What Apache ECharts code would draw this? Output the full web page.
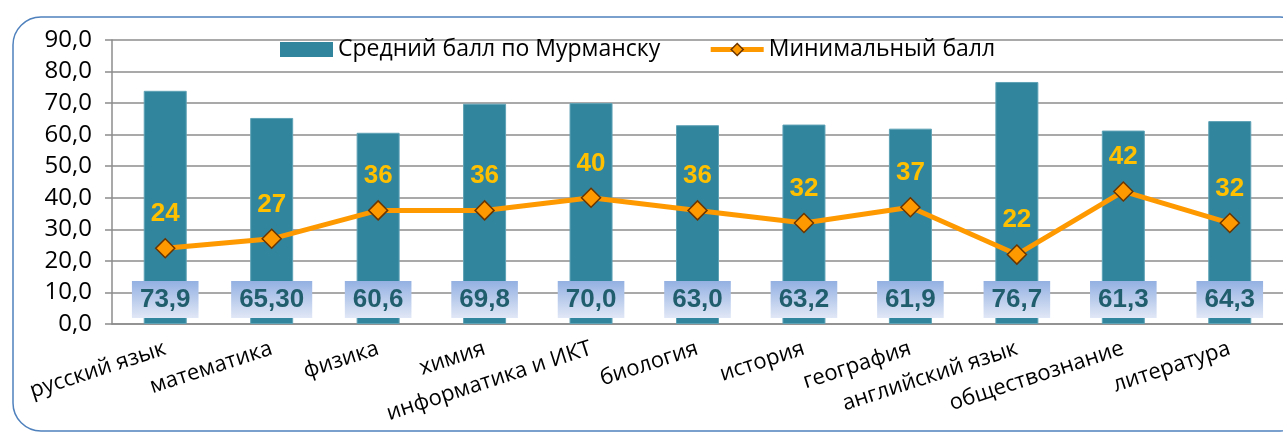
<!DOCTYPE html>
<html>
<head>
<meta charset="utf-8">
<script src="https://cdn.jsdelivr.net/npm/echarts@6/dist/echarts.min.js"></script>
<style>
  html, body { margin: 0; padding: 0; background: #fff; }
  #chart { width: 1283px; height: 437px; }
</style>
</head>
<body>
<div id="chart"></div>
<script>
var subjects = ['русский язык', 'математика', 'физика', 'химия', 'информатика и ИКТ',
    'биология', 'история', 'география', 'английский язык', 'обществознание', 'литература'];
var avgScore = [73.9, 65.30, 60.6, 69.8, 70.0, 63.0, 63.2, 61.9, 76.7, 61.3, 64.3];
var avgText = ['73,9', '65,30', '60,6', '69,8', '70,0', '63,0', '63,2', '61,9', '76,7', '61,3', '64,3'];
var minScore = [24, 27, 36, 36, 40, 36, 32, 37, 22, 42, 32];

var chart = echarts.init(document.getElementById('chart'));

var option = {
    backgroundColor: '#fff',
    animation: false,
    graphic: [{
        type: 'rect',
        shape: { x: 13, y: 17, width: 1295, height: 414, r: 28 },
        style: { fill: 'none', stroke: '#4f81bd', lineWidth: 1.5 },
        z: -1
    }],
    legend: {
        left: 275,
        top: 33,
        itemWidth: 53,
        itemHeight: 15,
        itemGap: 48,
        textStyle: { fontFamily: 'Open Sans', fontSize: 23, color: '#000' },
        data: [{
            name: 'Средний балл по Мурманску',
            icon: 'rect',
            itemStyle: { borderWidth: 0 }
        }, {
            name: 'Минимальный балл',
            lineStyle: { width: 5 },
            itemStyle: { borderWidth: 1.5 }
        }]
    },
    grid: { left: 112, right: 0, top: 40, bottom: 113 },
    xAxis: {
        type: 'category',
        data: subjects,
        axisLine: { lineStyle: { color: '#8c8c8c', width: 1.5 } },
        axisTick: { length: 8, lineStyle: { color: '#8c8c8c', width: 1.5 } },
        axisLabel: {
            interval: 0,
            rotate: 18,
            margin: 24,
            fontFamily: 'Open Sans',
            fontSize: 22,
            color: '#000'
        }
    },
    yAxis: {
        type: 'value',
        min: 0,
        max: 90,
        interval: 10,
        axisLine: { show: true, lineStyle: { color: '#8c8c8c', width: 1.5 } },
        axisTick: { show: true, length: 7, lineStyle: { color: '#8c8c8c', width: 1.5 } },
        splitLine: { lineStyle: { color: '#8c8c8c', width: 1.5 } },
        axisLabel: {
            margin: 20,
            fontFamily: 'Open Sans',
            fontSize: 24,
            color: '#000',
            formatter: function (v) { return v.toFixed(1).replace('.', ','); }
        }
    },
    series: [{
        name: 'Средний балл по Мурманску',
        type: 'bar',
        data: avgScore,
        barWidth: 43,
        itemStyle: { color: '#31859c', borderColor: '#5fa2b6', borderWidth: 1 },
        label: {
            show: true,
            position: 'insideBottom',
            distance: 6,
            formatter: function (p) { return avgText[p.dataIndex]; },
            fontFamily: 'Liberation Sans',
            fontWeight: 'bold',
            fontSize: 26,
            color: '#215e6d',
            padding: [6, 8, 5, 8],
            backgroundColor: new echarts.graphic.LinearGradient(0, 0, 0, 1, [
                { offset: 0, color: '#93b0e2' },
                { offset: 1, color: '#e1e8f6' }
            ])
        }
    }, {
        name: 'Минимальный балл',
        type: 'line',
        data: minScore,
        symbol: 'diamond',
        symbolSize: 19,
        lineStyle: { color: '#ff9900', width: 5 },
        itemStyle: { color: '#ff9900', borderColor: '#6b3500', borderWidth: 1.5 },
        label: {
            show: true,
            position: 'top',
            distance: 11,
            fontFamily: 'Liberation Sans',
            fontWeight: 'bold',
            fontSize: 26,
            color: '#ffc000'
        },
        z: 3
    }]
};

chart.setOption(option);
</script>
</body>
</html>
